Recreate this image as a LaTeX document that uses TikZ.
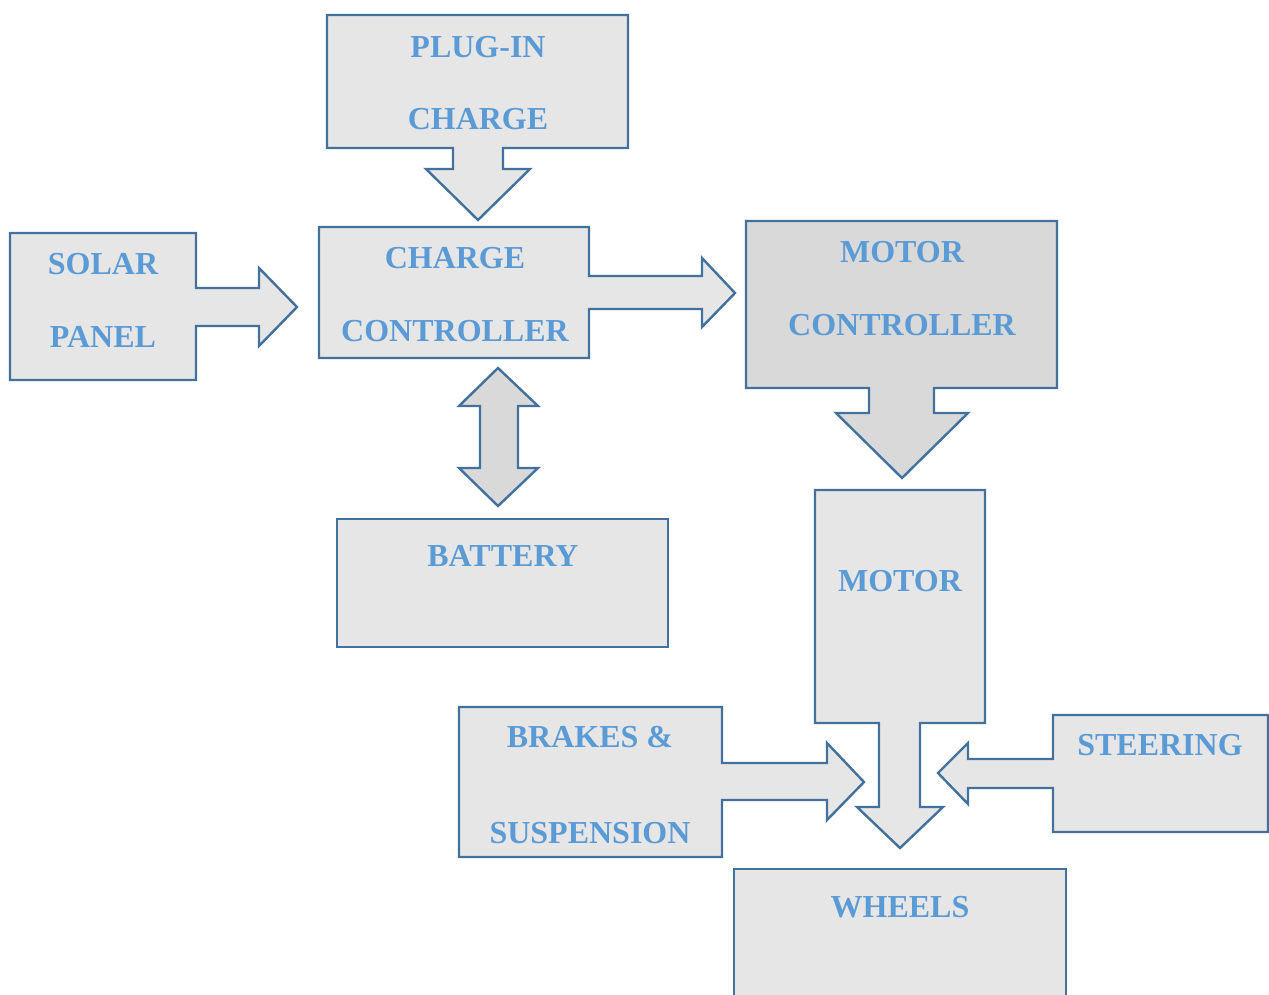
\documentclass[tikz,border=0pt]{standalone}
\usepackage{fontspec}
\setmainfont{Liberation Serif}
\usepackage{tikz}
\definecolor{edge}{RGB}{65, 113, 156}
\definecolor{light}{RGB}{231, 230, 230}
\definecolor{dark}{RGB}{217, 217, 217}
\definecolor{label}{RGB}{91, 155, 213}
\tikzset{
	block/.style={draw=edge, line width=2.4pt, line join=miter},
	txt/.style={anchor=base, inner sep=0pt, text=label, font=\fontsize{32}{38}\selectfont\bfseries}
}

\begin{document}
\begin{tikzpicture}[x=1pt, y=-1pt]
			\useasboundingbox (0, 0) rectangle (1269, 994);
			% plug-in charge
			\filldraw [block, fill=light] (327, 15) -- (628, 15) -- (628, 148) -- (503, 148) -- (503, 169) -- (530, 169) -- (478, 220) -- (426, 169) -- (453, 169) -- (453, 148) -- (327, 148) -- cycle;
			\node[txt] (plug1) at (478, 57) {PLUG-IN};
			\node[txt] (plug2) at (478, 129) {CHARGE};
			% solar panel
			\filldraw [block, fill=light] (10, 233) -- (196, 233) -- (196, 288) -- (259, 288) -- (259, 268) -- (297, 307) -- (259, 346) -- (259, 326) -- (196, 326) -- (196, 380) -- (10, 380) -- cycle;
			\node[txt] (solar1) at (103, 274) {SOLAR};
			\node[txt] (solar2) at (103, 347) {PANEL};
			% charge controller
			\filldraw [block, fill=light] (319, 227) -- (589, 227) -- (589, 276) -- (702, 276) -- (702, 258) -- (735, 293) -- (702, 327) -- (702, 309) -- (589, 309) -- (589, 358) -- (319, 358) -- cycle;
			\node[txt] (cc1) at (455, 268) {CHARGE};
			\node[txt] (cc2) at (455, 341) {CONTROLLER};
			% two way arrow to battery
			\filldraw [block, fill=dark] (498, 368) -- (538, 406) -- (518, 406) -- (518, 468) -- (538, 468) -- (498, 506) -- (459, 468) -- (480, 468) -- (480, 406) -- (459, 406) -- cycle;
			% battery
			\filldraw [block, fill=light] (337, 519) rectangle (668, 647);
			\node[txt] (batt) at (503, 566) {BATTERY};
			% motor controller
			\filldraw [block, fill=dark] (746, 221) -- (1057, 221) -- (1057, 388) -- (934, 388) -- (934, 413) -- (968, 413) -- (902, 478) -- (836, 413) -- (869, 413) -- (869, 388) -- (746, 388) -- cycle;
			\node[txt] (mc1) at (902, 262) {MOTOR};
			\node[txt] (mc2) at (902, 335) {CONTROLLER};
			% motor
			\filldraw [block, fill=light] (815, 490) -- (985, 490) -- (985, 723) -- (920, 723) -- (920, 807) -- (943, 807) -- (900, 848) -- (857, 807) -- (879, 807) -- (879, 723) -- (815, 723) -- cycle;
			\node[txt] (motor) at (900, 591) {MOTOR};
			% brakes & suspension
			\filldraw [block, fill=light] (459, 707) -- (722, 707) -- (722, 763) -- (827, 763) -- (827, 743) -- (864, 782) -- (827, 820) -- (827, 800) -- (722, 800) -- (722, 857) -- (459, 857) -- cycle;
			\node[txt] (brk1) at (590, 747) {BRAKES \&};
			\node[txt] (brk2) at (590, 843) {SUSPENSION};
			% steering
			\filldraw [block, fill=light] (1053, 715) -- (1268, 715) -- (1268, 832) -- (1053, 832) -- (1053, 788) -- (968, 788) -- (968, 804) -- (938, 773) -- (968, 743) -- (968, 759) -- (1053, 759) -- cycle;
			\node[txt] (steer) at (1160, 755) {STEERING};
			% wheels
			\filldraw [block, fill=light] (734, 869) rectangle (1066, 1000);
			\node[txt] (wheels) at (900, 917) {WHEELS};
		\end{tikzpicture}
\end{document}
